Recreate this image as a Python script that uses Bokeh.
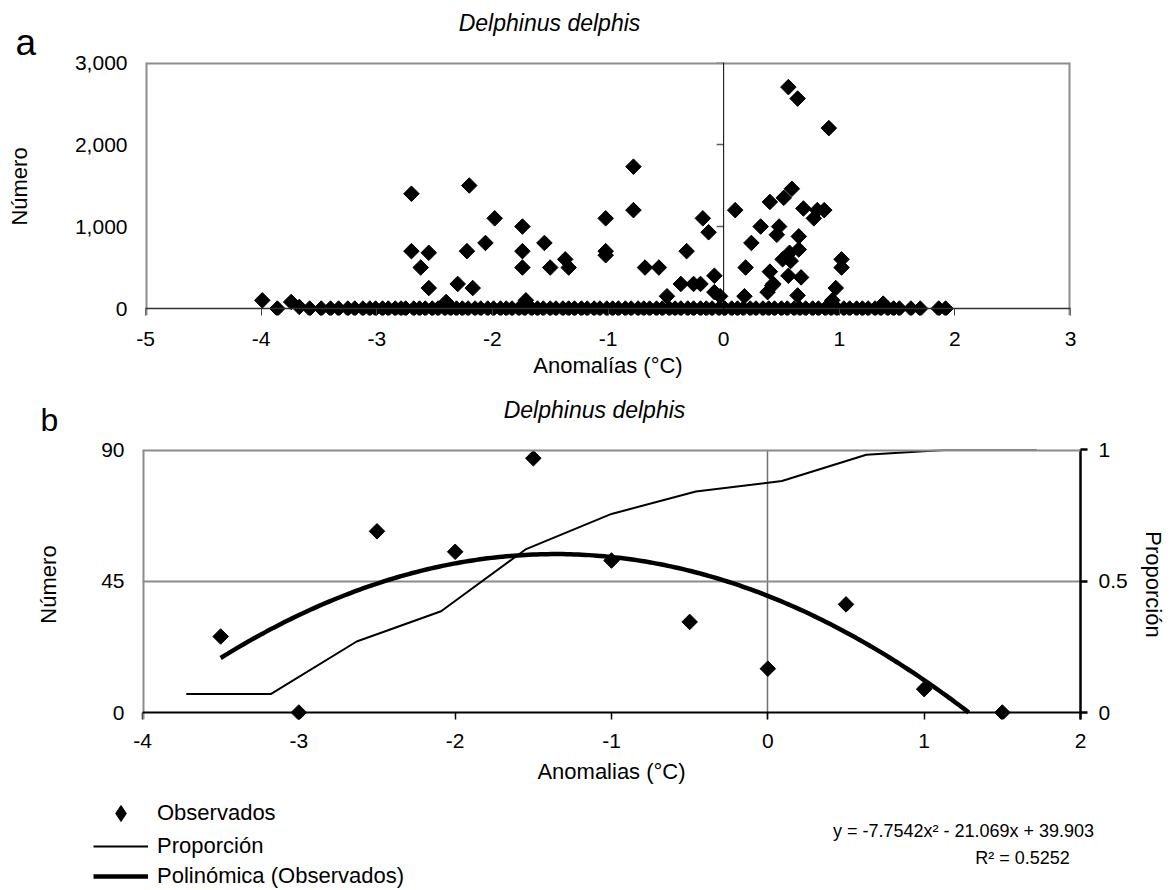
import numpy as np
from bokeh.plotting import figure
from bokeh.models import (Range1d, LinearAxis, FixedTicker, NumeralTickFormatter,
                          Span, Label, Legend, LegendItem)
from bokeh.layouts import column, row
from bokeh.embed import file_html
from bokeh.resources import INLINE

# ---------------- data: panel a ----------------
a_zero_x = [-3.86, -3.58, -3.48, -3.40, -3.33, -3.25, -3.19, -3.12, -3.06, -3.01, -2.95,
            -2.90, -2.84, -2.79, -2.75, -2.68, -2.63, -2.58, -2.52, -2.47, -2.41, -2.36,
            -2.31, -2.26, -2.21, -2.15, -2.10, -2.04, -1.99, -1.93, -1.88, -1.83, -1.77,
            -1.72, -1.66, -1.61, -1.56, -1.50, -1.45, -1.39, -1.34, -1.29, -1.23, -1.18,
            -1.12, -1.07, -1.01, -0.96, -0.91, -0.85, -0.80, -0.74, -0.69, -0.64, -0.58,
            -0.53, -0.47, -0.42, -0.37, -0.31, -0.26, -0.20, -0.15, -0.10, -0.04, 0.01,
            0.07, 0.12, 0.17, 0.23, 0.28, 0.34, 0.39, 0.44, 0.50, 0.55, 0.61, 0.66, 0.71,
            0.77, 0.82, 0.88, 0.93, 0.98, 1.04, 1.09, 1.15, 1.20, 1.25, 1.31, 1.36, 1.42,
            1.47, 1.52, 1.62, 1.70, 1.86, 1.92]
a_x = [-3.99, -3.74, -3.67, -2.70, -2.70, -2.55, -2.62, -2.55, -2.40, -2.30, -2.20, -2.22,
       -2.17, -2.06, -1.98, -1.74, -1.74, -1.74, -1.71, -1.55, -1.50, -1.37, -1.34, -1.02,
       -1.02, -1.02, -0.78, -0.78, -0.68, -0.56, -0.49, -0.37, -0.32, -0.26, -0.20, -0.18,
       -0.13, -0.08, -0.08, -0.03, 0.10, 0.18, 0.19, 0.24, 0.32, 0.38, 0.40, 0.40, 0.42,
       0.43, 0.46, 0.48, 0.51, 0.52, 0.56, 0.56, 0.57, 0.58, 0.59, 0.64, 0.64, 0.65, 0.65,
       0.67, 0.69, 0.78, 0.81, 0.87, 0.91, 0.94, 0.97, 1.02, 1.02, 1.38]
a_y = [100, 80, 20, 1400, 700, 680, 500, 250, 80, 300, 1500, 700,
       250, 800, 1100, 1000, 700, 500, 100, 800, 500, 600, 500, 1100,
       700, 650, 1730, 1200, 500, 500, 150, 300, 700, 300, 300, 1100,
       930, 400, 200, 150, 1200, 150, 500, 800, 1000, 200, 1300, 450, 280,
       300, 900, 1000, 600, 1350, 2700, 400, 680, 580, 1460, 2560, 160, 880, 720,
       380, 1220, 1100, 1200, 1200, 2200, 100, 250, 600, 500, 60]
a_xticks = [-5, -4, -3, -2, -1, 0, 1, 2, 3]
a_yticks = [0, 1000, 2000, 3000]

# ---------------- data: panel b ----------------
b_obs_x = [-3.5, -3.0, -2.5, -2.0, -1.5, -1.0, -0.5, 0.0, 0.5, 1.0, 1.5]
b_obs_y = [26, 0, 62, 55, 87, 52, 31, 15, 37, 8, 0]
b_prop_x = [-3.72, -3.18, -2.63, -2.09, -1.55, -1.00, -0.46, 0.09, 0.63, 1.18, 1.72]
b_prop_y = [0.07, 0.07, 0.27, 0.385, 0.62, 0.755, 0.84, 0.88, 0.98, 1.0, 1.0]
b_trend_coef = [-7.7542, -21.069, 39.903]
b_r2 = "0.5252"
b_xticks = [-4, -3, -2, -1, 0, 1, 2]
b_yticks = [0, 45, 90]
b_prop_ticks = [0, 0.5, 1]

FONT = "Liberation Sans"
W = 1176
GRAY = "#8c8c8c"
TICK_FS = "21px"
AXIS_FS = "22px"


def style_axis(ax):
    ax.major_label_text_font = FONT
    ax.major_label_text_font_size = TICK_FS
    ax.major_label_text_color = "black"
    ax.axis_label_text_font = FONT
    ax.axis_label_text_font_size = AXIS_FS
    ax.axis_label_text_font_style = "normal"
    ax.axis_label_text_color = "black"
    ax.minor_tick_line_color = None


def text_fig(left, right, top, bottom):
    """A figure whose frame is its whole canvas; data coords = page pixels."""
    f = figure(width=right - left, height=bottom - top, output_backend="svg",
               toolbar_location=None,
               x_range=Range1d(left, right), y_range=Range1d(bottom, top),
               x_axis_type=None, y_axis_type=None, outline_line_color=None,
               min_border_left=0, min_border_right=0, min_border_top=0, min_border_bottom=0)
    f.grid.visible = False
    return f


def txt(x, y, text, size, **kw):
    kw.setdefault("text_align", "left")
    return Label(x=x, y=y, text=text, text_font=FONT, text_font_size=size,
                 text_color="black", text_baseline="middle", **kw)


# ================= top-left strip: "a" + y title of panel a =================
SA = 60
A_BOT = 380
strip_a = text_fig(0, SA, 0, A_BOT)
strip_a.add_layout(txt(15, 42, "a", "37px"))
strip_a.add_layout(txt(19, 186, "Número", AXIS_FS, text_align="center", angle=np.pi / 2))

# ================= header a (title) =================
HA_B = 48
ha = text_fig(SA, W, 0, HA_B)
ha.add_layout(txt(549, 22, "Delphinus delphis", "23px", text_align="center",
                  text_font_style="italic"))

# ================= panel a =================
A_L, A_R, A_T, A_B = 145, 1070, 62, 317   # frame on page (zero line at 310)
a_ylo = -3000 * 7 / 248
pa = figure(width=W - SA, height=A_BOT - HA_B, output_backend="svg", toolbar_location=None,
            x_range=Range1d(-5, 3), y_range=Range1d(a_ylo, 3000),
            min_border_left=A_L - SA, min_border_right=W - A_R,
            min_border_top=A_T - HA_B, min_border_bottom=A_BOT - A_B,
            outline_line_color=None)

xa = pa.xaxis[0]
xa.ticker = FixedTicker(ticks=a_xticks)
xa.major_label_overrides = {t: str(t) for t in a_xticks}
xa.axis_line_color = None
xa.major_tick_in = 7
xa.major_tick_out = 0
xa.major_tick_line_color = "#404040"
xa.major_label_standoff = 16
xa.axis_label = "Anomalías (°C)"
xa.axis_label_standoff = 4
style_axis(xa)

ya = pa.yaxis[0]
ya.ticker = FixedTicker(ticks=a_yticks)
ya.formatter = NumeralTickFormatter(format="0,0")
ya.axis_line_color = None
ya.major_tick_in = 0
ya.major_tick_out = 0
ya.major_label_standoff = 18
style_axis(ya)

pa.xgrid.visible = False
pa.ygrid.visible = False

# plot-area border (grey) and axis lines
for loc, dim in ((-5, "height"), (3, "height"), (3000, "width")):
    pa.add_layout(Span(location=loc, dimension=dim, line_color=GRAY, line_width=4))
pa.add_layout(Span(location=0, dimension="width", line_color="#303030", line_width=1.5))
pa.add_layout(Span(location=0, dimension="height", line_color="black", line_width=1))
tick_len = 7 * 8 / (A_R - A_L)
pa.segment(x0=[-tick_len] * 3, y0=a_yticks[1:], x1=[0] * 3, y1=a_yticks[1:],
           line_color="#606060", line_width=1.5)

pa.scatter(a_zero_x, [0] * len(a_zero_x), marker="square", angle=np.pi / 4, size=11,
           fill_color="black", line_color="black")
pa.scatter(a_x, a_y, marker="square", angle=np.pi / 4, size=11,
           fill_color="black", line_color="black")

# ================= header b =================
HB_T, HB_B = A_BOT, 437
hb = text_fig(0, W, HB_T, HB_B)
hb.add_layout(txt(40, 419, "b", "32px"))
hb.add_layout(txt(594, 409, "Delphinus delphis", "23px", text_align="center",
                  text_font_style="italic"))

# ================= panel b =================
B_BOT = 800
B_L, B_R, B_T, B_B = 142, 1080, 449, 719   # frame on page (zero line at 712)
b_ylo = -90 * 7 / 263
pb = figure(width=W, height=B_BOT - HB_B, output_backend="svg", toolbar_location=None,
            x_range=Range1d(-4, 2), y_range=Range1d(b_ylo, 90),
            min_border_left=B_L, min_border_right=W - B_R,
            min_border_top=B_T - HB_B, min_border_bottom=B_BOT - B_B,
            outline_line_color=None)
pb.extra_y_ranges = {"prop": Range1d(b_ylo / 90, 1)}

xb = pb.xaxis[0]
xb.ticker = FixedTicker(ticks=b_xticks)
xb.major_label_overrides = {t: str(t) for t in b_xticks}
xb.axis_line_color = None
xb.major_tick_in = 7
xb.major_tick_out = 0
xb.major_tick_line_color = "black"
xb.major_tick_line_width = 1.5
xb.major_label_standoff = 14
xb.axis_label = "Anomalias (°C)"
xb.axis_label_standoff = 8
style_axis(xb)

yb = pb.yaxis[0]
yb.ticker = FixedTicker(ticks=b_yticks)
yb.axis_line_color = None
yb.major_tick_in = 0
yb.major_tick_out = 0
yb.major_label_standoff = 18
yb.axis_label = "Número"
yb.axis_label_standoff = 37
style_axis(yb)

yr = LinearAxis(y_range_name="prop", ticker=FixedTicker(ticks=b_prop_ticks),
                major_label_overrides={0: "0", 0.5: "0.5", 1: "1"})
yr.axis_line_color = "black"
yr.axis_line_width = 2.5
yr.major_tick_out = 7
yr.major_tick_in = 0
yr.major_tick_line_color = "black"
yr.major_tick_line_width = 2.5
yr.major_label_standoff = 11
yr.axis_label = "Proporción"
yr.axis_label_standoff = 10
style_axis(yr)
pb.add_layout(yr, "right")

pb.xgrid.ticker = FixedTicker(ticks=[0])
pb.xgrid.grid_line_color = "#707070"
pb.xgrid.grid_line_width = 1.5
pb.ygrid.ticker = FixedTicker(ticks=[45])
pb.ygrid.grid_line_color = GRAY
pb.ygrid.grid_line_width = 2
pb.add_layout(Span(location=-4, dimension="height", line_color=GRAY, line_width=4))
pb.add_layout(Span(location=90, dimension="width", line_color=GRAY, line_width=4))
pb.add_layout(Span(location=0, dimension="width", line_color="black", line_width=2))

# trend line from the displayed polynomial, drawn down to where it meets 0
roots = np.roots(b_trend_coef)
x_end = float(max(r.real for r in roots))
tx = np.linspace(min(b_obs_x), x_end, 200)
ty = np.polyval(b_trend_coef, tx)

pb.line(b_prop_x, b_prop_y, y_range_name="prop", line_color="black", line_width=2)
pb.line(tx, ty, line_color="black", line_width=4.5)
pb.scatter(b_obs_x, b_obs_y, marker="square", angle=np.pi / 4, size=11,
           fill_color="black", line_color="black")

# ================= legend + equation =================
C_T, C_B = B_BOT, 890
pc = text_fig(0, W, C_T, C_B)
# hidden copies of the series (same data) that only serve as legend keys
k_obs = pc.scatter(x=b_obs_x, y=b_obs_y, marker="diamond", fill_color="black",
                   line_color="black", visible=False)
k_prop = pc.line(x=b_prop_x, y=b_prop_y, line_color="black", line_width=2, visible=False)
k_trend = pc.line(x=tx, y=ty, line_color="black", line_width=4.5, visible=False)


def add_key(renderer, label, center_y, gh):
    lg = Legend(items=[LegendItem(label=label, renderers=[renderer])],
                location=(93, C_B - (center_y + gh / 2)),
                border_line_color=None, background_fill_alpha=0,
                inactive_fill_alpha=0,
                padding=0, margin=0, spacing=0,
                glyph_width=55, glyph_height=gh, label_height=gh, label_standoff=9,
                label_text_font=FONT, label_text_font_size="22px",
                label_text_color="black")
    pc.add_layout(lg)


add_key(k_obs, "Observados", 813, 40)
add_key(k_prop, "Proporción", 846, 26)
add_key(k_trend, "Polinómica (Observados)", 878, 22)

eq_text = "y = %gx² - %gx + %g" % (b_trend_coef[0], -b_trend_coef[1], b_trend_coef[2])
pc.add_layout(txt(963, 830, eq_text, "18px", text_align="center"))
pc.add_layout(txt(1022, 857, "R² = " + b_r2, "18px", text_align="center"))

layout = column(row(column(strip_a), column(row(ha), row(pa))),
                row(hb), row(pb), row(pc))
open("out.html", "w").write(file_html(layout, INLINE))
